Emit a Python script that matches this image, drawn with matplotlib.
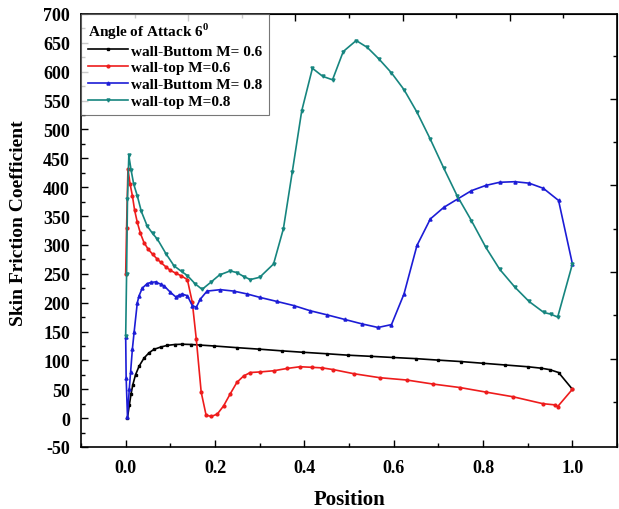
import matplotlib
matplotlib.use("Agg")
import matplotlib.pyplot as plt
from matplotlib.ticker import MultipleLocator

plt.rcParams['font.family'] = ['Liberation Serif', 'DejaVu Serif']
plt.rcParams['font.weight'] = 'bold'
plt.rcParams['axes.unicode_minus'] = False
plt.rcParams['mathtext.fontset'] = 'custom'
plt.rcParams['mathtext.rm'] = 'Liberation Serif:bold'
plt.rcParams['mathtext.bf'] = 'Liberation Serif:bold'

# skin friction along the wall, angle of attack 6 deg
x_bot_06 = [0.004, 0.008, 0.012, 0.016, 0.022, 0.03, 0.041, 0.052, 0.063, 0.078,
            0.093, 0.11, 0.127, 0.147, 0.167, 0.197, 0.25, 0.298, 0.35, 0.398,
            0.45, 0.498, 0.55, 0.599, 0.65, 0.699, 0.75, 0.8, 0.85, 0.9,
            0.93, 0.949, 0.969, 1.0]
y_bot_06 = [1, 22, 42, 58, 75, 90, 104, 113, 119, 123,
            126, 127.5, 128, 127.5, 126.5, 125, 122, 119.5, 116.5, 114,
            111.5, 109, 107, 105, 103, 100.5, 98, 95, 92, 89,
            86.5, 84, 79, 50]

x_top_06 = [0.0, 0.002, 0.005, 0.01, 0.015, 0.02, 0.026, 0.033, 0.041, 0.05,
            0.06, 0.07, 0.078, 0.09, 0.1, 0.112, 0.123, 0.138, 0.149, 0.158,
            0.169, 0.18, 0.192, 0.205, 0.219, 0.234, 0.249, 0.264, 0.279, 0.301,
            0.331, 0.361, 0.39, 0.417, 0.44, 0.465, 0.51, 0.569, 0.629, 0.688,
            0.748, 0.807, 0.867, 0.934, 0.96, 0.967, 1.0]
y_top_06 = [250, 330, 431, 405, 385, 360, 339, 320, 304, 293,
            284, 276, 270, 262, 256, 251, 247, 240, 201, 137,
            45, 5, 3, 7, 21, 42, 62, 73, 79, 80,
            82, 86, 89, 88, 87, 84, 77, 70, 66, 59,
            53, 45, 37, 25, 23, 20, 50]

x_bot_08 = [0.0, 0.001, 0.004, 0.008, 0.011, 0.015, 0.019, 0.026, 0.03, 0.037,
            0.048, 0.056, 0.067, 0.078, 0.086, 0.1, 0.112, 0.12, 0.126, 0.138,
            0.149, 0.158, 0.167, 0.182, 0.212, 0.242, 0.272, 0.301, 0.339, 0.376,
            0.413, 0.45, 0.49, 0.53, 0.565, 0.595, 0.623, 0.652, 0.682, 0.712,
            0.744, 0.774, 0.806, 0.837, 0.871, 0.903, 0.935, 0.969, 1.0]
y_bot_08 = [140, 70, 2, 50, 80, 120, 150, 200, 212, 225,
            233, 235, 236, 232, 229, 218, 210, 213, 215, 212,
            195, 192, 206, 220, 222.5, 220, 215, 209, 202, 195,
            186, 179, 171, 163, 157, 162, 215, 299, 345, 365,
            380, 394, 403, 408.5, 409.5, 407, 398, 377, 267]

x_top_08 = [0.0, 0.002, 0.004, 0.007, 0.012, 0.018, 0.026, 0.035, 0.048, 0.06,
            0.071, 0.09, 0.108, 0.125, 0.138, 0.155, 0.171, 0.19, 0.21, 0.234,
            0.249, 0.265, 0.279, 0.30, 0.331, 0.353, 0.373, 0.394, 0.418, 0.441,
            0.463, 0.487, 0.516, 0.541, 0.567, 0.595, 0.623, 0.652, 0.682, 0.712,
            0.742, 0.774, 0.806, 0.837, 0.871, 0.903, 0.936, 0.952, 0.967, 1.0]
y_top_08 = [143, 250, 380, 455, 430, 405, 385, 358, 333, 320,
            310, 285, 264, 254, 247, 233, 223, 235, 248, 255,
            252, 245, 240, 244, 267, 328, 427, 532, 606, 592,
            586, 635, 654, 642, 622, 598, 569, 530, 483, 433,
            385, 342, 296, 258, 227, 202, 183, 180, 175, 267]

fig = plt.figure(figsize=(6.19, 5.10), dpi=100)
ax = fig.add_axes([0.1309, 0.1216, 0.866, 0.849])

ax.plot(x_bot_06, y_bot_06, color='black', lw=1.2, marker='s', ms=1.8,
        label='wall-Buttom M= 0.6')
ax.plot(x_top_06, y_top_06, color='#ee1c1c', lw=1.2, marker='o', ms=2.0,
        label='wall-top M=0.6')
ax.plot(x_bot_08, y_bot_08, color='#1c1cd6', lw=1.2, marker='^', ms=2.2,
        label='wall-Buttom M= 0.8')
ax.plot(x_top_08, y_top_08, color='#16857f', lw=1.2, marker='v', ms=2.2,
        label='wall-top M=0.8')

ax.set_xlim(-0.1, 1.1)
ax.set_ylim(-50, 700)
ax.set_xticks([0.0, 0.2, 0.4, 0.6, 0.8, 1.0])
ax.xaxis.set_minor_locator(MultipleLocator(0.1))
ax.yaxis.set_major_locator(MultipleLocator(50))
ax.yaxis.set_minor_locator(MultipleLocator(25))
ax.tick_params(which='both', direction='in', top=False, right=False, width=1.0)
ax.tick_params(which='major', length=5, labelsize=13)
ax.tick_params(axis='y', which='major', pad=8)
ax.tick_params(axis='x', which='major', pad=9)
ax.tick_params(which='minor', length=3)
for s in ax.spines.values():
    s.set_linewidth(1.2)

# opposite axes carry their own tick spacing
top = ax.secondary_xaxis('top')
top.set_xticks([0.14, 0.38, 0.62, 0.86])
top.set_xticks([0.02, 0.26, 0.50, 0.74, 0.98], minor=True)
top.tick_params(which='both', direction='in', labeltop=False, width=1.0)
top.tick_params(which='major', length=5)
top.tick_params(which='minor', length=3)
right = ax.secondary_yaxis('right')
right.set_yticks([103, 253, 403, 553])
right.set_yticks([28, 178, 328, 478, 628], minor=True)
right.tick_params(which='both', direction='in', labelright=False, width=1.0)
right.tick_params(which='major', length=5)
right.tick_params(which='minor', length=3)

ax.set_xlabel('Position', fontsize=15, fontweight='bold', labelpad=9)
ax.set_ylabel('Skin Friction Coefficient', fontsize=14, fontweight='bold')
ax.yaxis.set_label_coords(-0.1, 0.52)

leg = ax.legend(loc='upper left', bbox_to_anchor=(0, 1), borderaxespad=0,
                title='Angle of Attack 6$^0$', fancybox=False, frameon=True,
                edgecolor='#555555', fontsize=11, title_fontsize=11,
                handlelength=2.6, handletextpad=0.2, labelspacing=0.2,
                borderpad=0.45, alignment='left')
leg.get_title().set_fontweight('bold')
leg.get_frame().set_linewidth(0.8)
leg._legend_box.sep = 2

fig.savefig('out.png', dpi=100)
